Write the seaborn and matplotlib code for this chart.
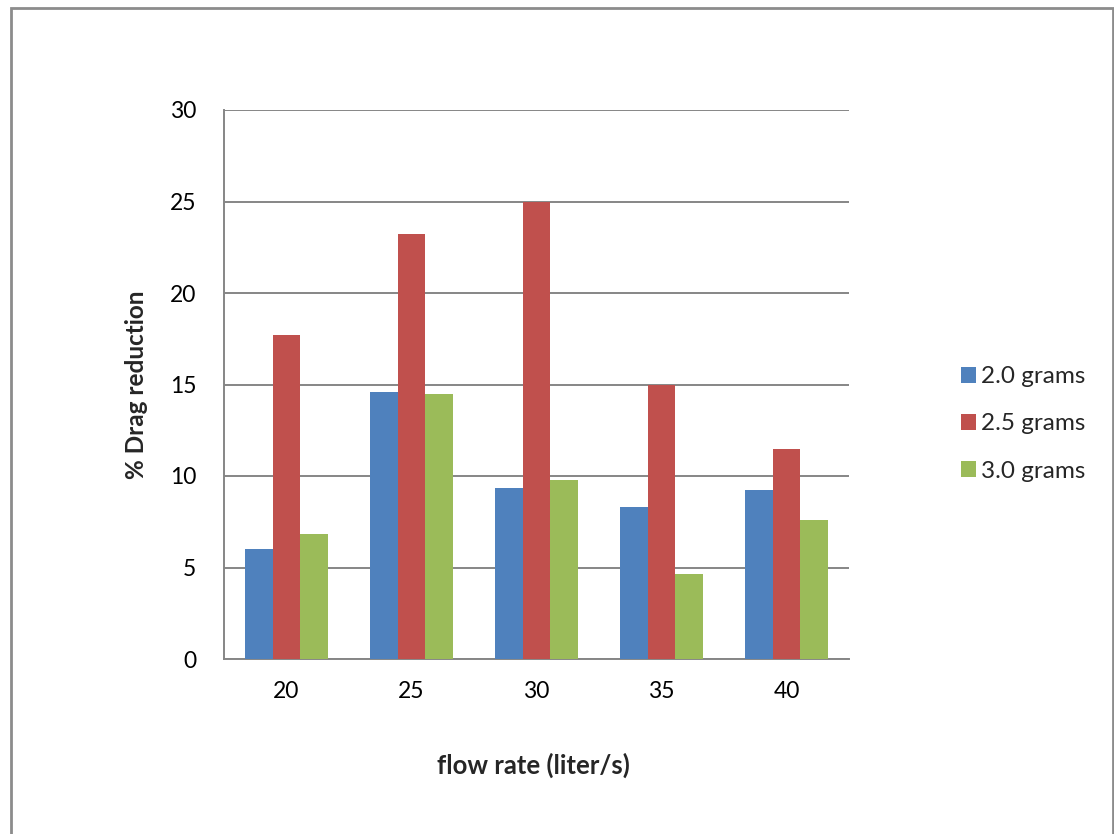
import matplotlib
matplotlib.use("Agg")
import matplotlib.pyplot as plt
from matplotlib.patches import Rectangle
import seaborn as sns
import pandas as pd

flow_rates = ["20", "25", "30", "35", "40"]
series_names = ["2.0 grams", "2.5 grams", "3.0 grams"]
dose_2_0 = [6.0, 14.6, 9.35, 8.3, 9.25]
dose_2_5 = [17.7, 23.2, 25.0, 15.0, 11.45]
dose_3_0 = [6.85, 14.5, 9.8, 4.65, 7.6]
colors = ["#4F81BD", "#C0504D", "#9BBB59"]

rows = []
for name, vals in zip(series_names, [dose_2_0, dose_2_5, dose_3_0]):
    for fr, v in zip(flow_rates, vals):
        rows.append({"flow": fr, "dose": name, "value": v})
df = pd.DataFrame(rows)

sns.set_theme(style="white")
plt.rcParams["font.family"] = ["Lato", "DejaVu Sans"]

W, H = 1114, 834
fig = plt.figure(figsize=(W / 100, H / 100), dpi=100)
ax = fig.add_axes([224 / W, 1 - 659 / H, (849 - 224) / W, (659 - 110) / H])

sns.barplot(data=df, x="flow", y="value", hue="dose", order=flow_rates,
            hue_order=series_names, palette=colors, width=0.667, gap=0,
            saturation=1, ax=ax, legend=False, errorbar=None, zorder=3,
            linewidth=0, edgecolor="none")

grid_c = "#868686"
ax.set_ylim(0, 30)
ax.set_xlim(-0.5, 4.5)
ax.set_yticks(range(0, 31, 5))
ax.yaxis.grid(True, color=grid_c, linewidth=1.4, zorder=0)
ax.set_axisbelow(True)
for s in ["top", "right"]:
    ax.spines[s].set_visible(False)
for s in ["left", "bottom"]:
    ax.spines[s].set_color(grid_c)
    ax.spines[s].set_linewidth(1.4)
ax.tick_params(axis="both", length=0, labelsize=16.5, colors="black")
ax.tick_params(axis="y", pad=20)
ax.tick_params(axis="x", pad=16)

ax.set_xlabel("")
ax.set_ylabel("")
fig.text(533 / W, 1 - 765 / H, "flow rate (liter/s)", ha="center", va="center",
         fontsize=18.5, fontweight="bold")
fig.text(137 / W, 1 - 385 / H, "% Drag reduction", ha="center", va="center",
         rotation=90, fontsize=17.5, fontweight="bold")

# legend on the right
handles = [Rectangle((0, 0), 1, 1, facecolor=c, edgecolor="none") for c in colors]
fig.legend(handles, series_names, loc="center left",
           bbox_to_anchor=(949 / W, 1 - 424 / H), frameon=False, fontsize=17.5,
           handlelength=0.62, handleheight=0.62, handletextpad=0.2,
           labelspacing=1.08, borderpad=0)

# outer chart frame
fig.patches.append(Rectangle((10.5 / W, -0.02), (1112.5 - 10.5) / W, 1.02 - 8.5 / H,
                             transform=fig.transFigure, fill=False,
                             edgecolor="#8C8C8C", linewidth=2))

fig.savefig("out.png", dpi=100, facecolor="white")
